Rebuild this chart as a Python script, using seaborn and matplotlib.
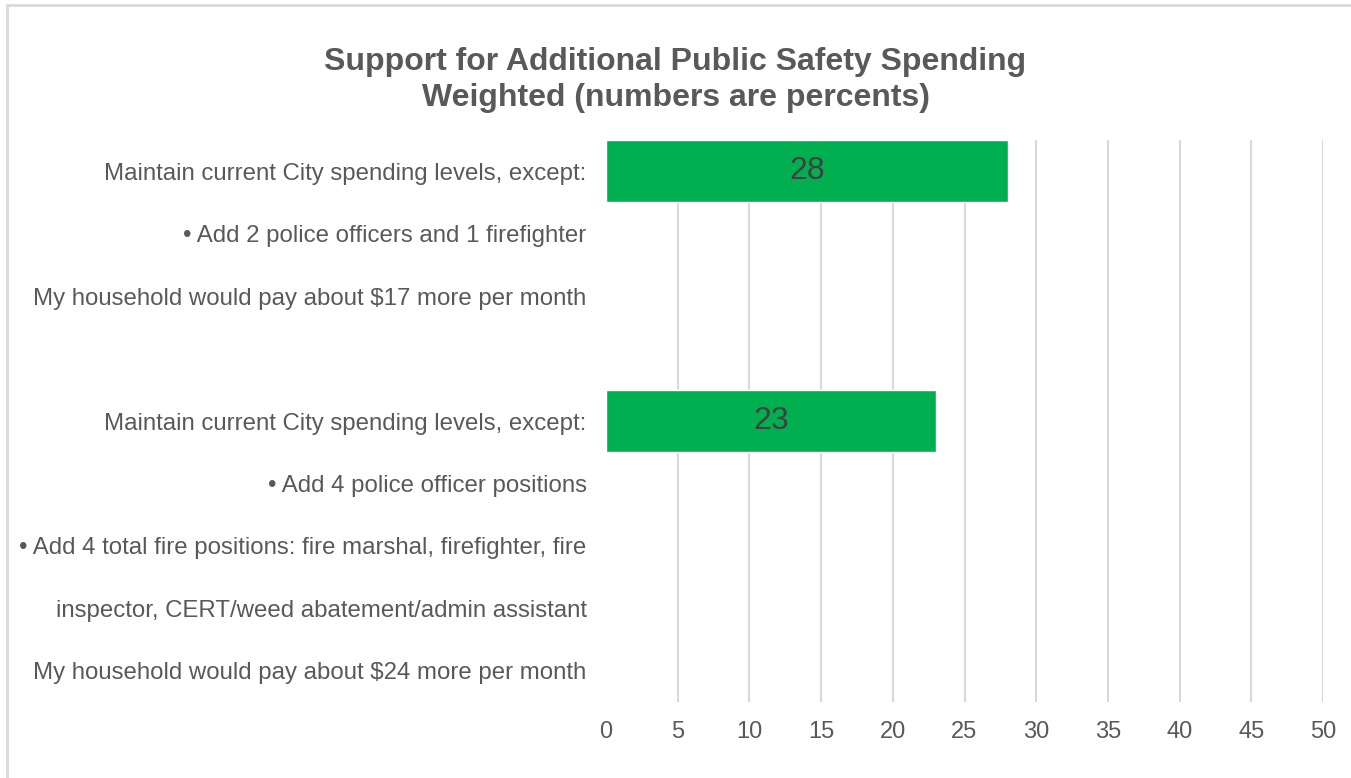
import matplotlib
matplotlib.use("Agg")
import matplotlib.pyplot as plt
import seaborn as sns
import pandas as pd
from matplotlib.lines import Line2D

labels = [
    "Maintain current City spending levels, except:",
    "\u2022 Add 2 police officers and 1 firefighter",
    "My household would pay about $17 more per month",
    "",
    "Maintain current City spending levels, except:",
    "\u2022 Add 4 police officer positions",
    "\u2022 Add 4 total fire positions: fire marshal, firefighter, fire",
    "inspector, CERT/weed abatement/admin assistant",
    "My household would pay about $24 more per month",
]
values = [28, 0, 0, 0, 23, 0, 0, 0, 0]
bar_text = ["28", "", "", "", "23", "", "", "", ""]
xticks = [0, 5, 10, 15, 20, 25, 30, 35, 40, 45, 50]

title = "Support for Additional Public Safety Spending\nWeighted (numbers are percents)"

sns.set_theme(style="white")
plt.rcParams["font.family"] = ["Liberation Sans", "DejaVu Sans"]

row_ids = [f"r{i}" for i in range(len(labels))]
df = pd.DataFrame({"row": row_ids, "value": values})

fig = plt.figure(figsize=(13.51, 7.78), dpi=100)
ax = fig.add_axes([606/1351, 1-702/778, (1323-606)/1351, (702-140)/778])

sns.barplot(data=df, x="value", y="row", order=row_ids, color="#00b050",
            saturation=1, width=1.0, orient="h", ax=ax, zorder=3)

ax.set_xlim(0, 50)
ax.set_xticks(xticks)
ax.set_xticklabels([str(t) for t in xticks])
ax.set_yticks(range(len(labels)))
ax.set_yticklabels(labels)
ax.set_xlabel("")
ax.set_ylabel("")
for s in ax.spines.values():
    s.set_visible(False)
ax.grid(axis="x", color="#d9d9d9", linewidth=1.5, zorder=0)
ax.set_axisbelow(True)
ax.tick_params(axis="y", length=0, pad=14, labelsize=17.3, labelcolor="#595959")
ax.tick_params(axis="x", length=0, pad=14, labelsize=17, labelcolor="#595959")

for cont in ax.containers:
    ax.bar_label(cont, labels=bar_text, label_type="center", fontsize=23,
                 color="#404040")

fig.text(0.5, 1-80/778, title, ha="center", va="center", fontsize=23,
         fontweight="bold", color="#595959", linespacing=1.3)

fig.add_artist(Line2D([7/1351, 1], [1-5/778, 1-5/778], color="#d9d9d9",
                      linewidth=2, transform=fig.transFigure))
fig.add_artist(Line2D([7/1351, 7/1351], [0, 1-5/778], color="#d9d9d9",
                      linewidth=2, transform=fig.transFigure))

fig.savefig("out.png", dpi=100)
